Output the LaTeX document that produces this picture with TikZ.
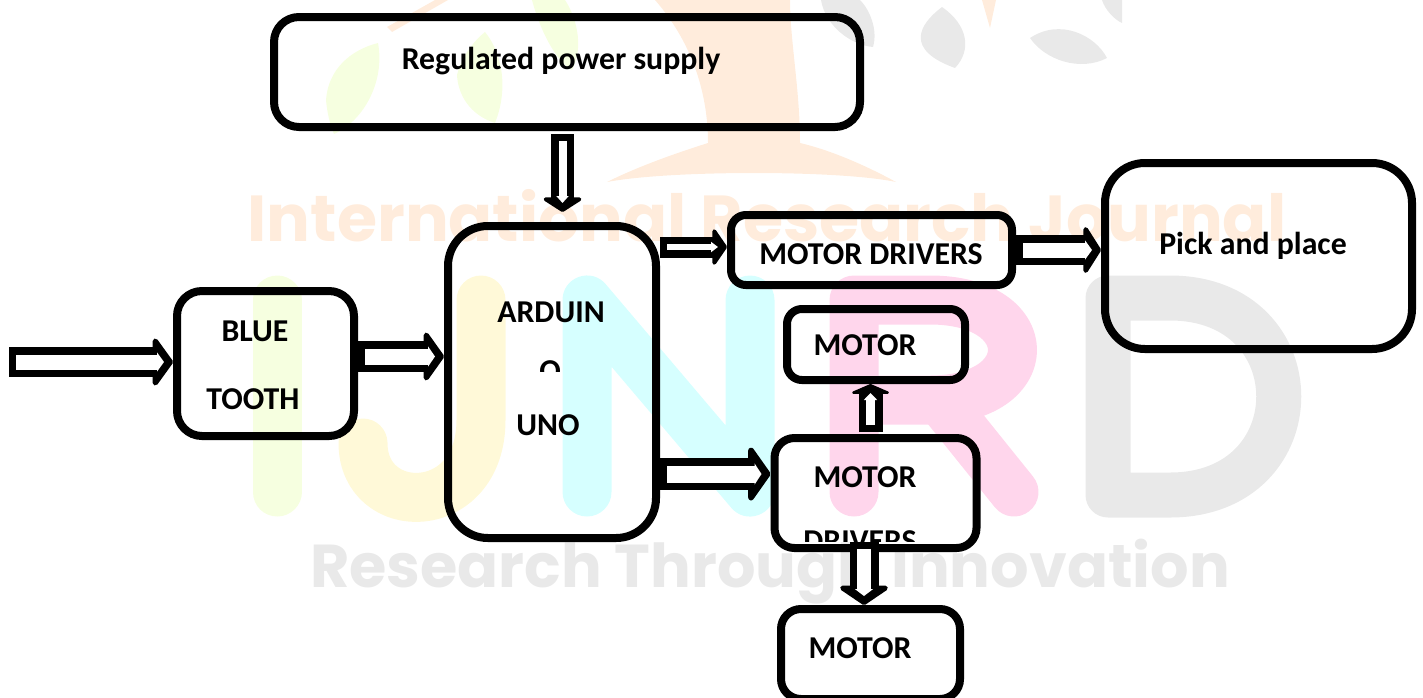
\documentclass[tikz,border=0pt]{standalone}
\usepackage{fontspec}
\setmainfont{Carlito}
\newfontfamily\markfont{Poppins}
\usetikzlibrary{arrows.meta}
\definecolor{markorange}{HTML}{FFECDC}
\definecolor{markyellow}{HTML}{FFF9D8}
\definecolor{markgreen}{HTML}{F6FFE0}
\definecolor{markcyan}{HTML}{D6FFFF}
\definecolor{markpink}{HTML}{FFD6EC}
\definecolor{markgrey}{HTML}{E9E9E9}
\tikzset{
    blk/.style={draw,line width=8pt,rounded corners=#1,inner sep=0pt},
    txt/.style={font=\fontsize{31.8}{31.8}\selectfont\bfseries,inner sep=0pt},
    hollow/.style n args={3}{draw=white,line width=#1-15pt,shorten <=7pt,shorten >=9pt,
        -{Triangle[width=#1-11pt,length=7pt]},
        preaction={draw=black,line width=#1,shorten <=0pt,shorten >=0pt,
            -{Triangle[width=#2+6pt,length=#3,round,line width=7pt]}}},
    wm/.style={line width=49pt,line cap=round,line join=round},
    wmtext/.style={font=\markfont\fontsize{#1}{#1}\selectfont\bfseries,inner sep=0pt}
}
\begin{document}
\begin{tikzpicture}[x=1pt,y=-1pt]
            \useasboundingbox (0,0) rectangle (1423,697);
            % watermark
            \fill[markorange] (655,0) .. controls (690,40) and (708,90) .. (708,143) .. controls (670,155) and (635,168) .. (607,182) .. controls (670,170) and (840,170) .. (896,182) .. controls (865,165) and (830,150) .. (800,143) .. controls (800,90) and (790,40) .. (790,0) -- cycle;
            \fill[markorange] (387,27) -- (435,0) -- (448,0) -- (392,32) -- cycle;
            \fill[markorange] (982,0) -- (996,0) -- (990,28) -- cycle;
            \fill[markgreen] (326,100) .. controls (328,70) and (350,50) .. (378,43) .. controls (385,80) and (365,120) .. (334,134) .. controls (330,125) and (327,112) .. cycle;
            \fill[markgreen] (457,75) .. controls (462,55) and (475,40) .. (485,32) .. controls (500,50) and (510,85) .. (495,123) .. controls (470,115) and (458,95) .. cycle;
            \fill[markgreen] (532,0) .. controls (540,30) and (555,60) .. (572,70) .. controls (585,45) and (575,15) .. (565,0) -- cycle;
            \fill[markgrey] (821,0) .. controls (825,25) and (850,45) .. (873,47) .. controls (878,30) and (870,10) .. (860,0) -- cycle;
            \fill[markgrey] (942,7) .. controls (918,25) and (905,50) .. (955,68) .. controls (972,50) and (968,25) .. cycle;
            \fill[markgrey] (1030,38) .. controls (1045,60) and (1080,72) .. (1107,58) .. controls (1095,35) and (1060,18) .. cycle;
            \fill[markgrey] (1102,0) .. controls (1105,10) and (1115,20) .. (1122,23) -- (1122,0) -- cycle;
            \node[wmtext=65,text=markorange] (marktop) at (767,216) {International Research Journal};
            \node[wmtext=60.5,text=markgrey] (markbot) at (770,572) {Research Through Innovation};
            \draw[wm,markgreen] (277,300) -- (277,492);
            \draw[wm,markyellow] (481,300) -- (481,420) .. controls (481,519) and (363,519) .. (363,443);
            \draw[wm,markcyan] (587,492) -- (587,300) -- (750,492) -- (750,300);
            \draw[wm,markpink] (854,492) -- (854,300) -- (930,300) .. controls (1040,300) and (1040,400) .. (930,400) -- (854,400);
            \draw[wm,markpink] (940,400) -- (1014,492);
            \draw[wm,line width=45pt,markgrey] (1108,298) -- (1108,495) -- (1170,495) .. controls (1315,495) and (1315,298) .. (1170,298) -- cycle;
            % boxes
            \node[blk=25pt,minimum width=586pt,minimum height=110pt] (supply) at (567,72) {};
            \node[blk=40pt,minimum width=208pt,minimum height=312pt] (uno) at (552,382) {};
            \node[blk=25pt,minimum width=177pt,minimum height=145pt] (blue) at (265.5,363.5) {};
            \node[blk=15pt,minimum width=281pt,minimum height=70pt] (drvtop) at (871.5,250) {};
            \node[blk=40pt,minimum width=307pt,minimum height=186pt] (pick) at (1258.5,256) {};
            \node[blk=15pt,minimum width=178pt,minimum height=71pt] (motortop) at (876,344.5) {};
            \node[blk=20pt,minimum width=202pt,minimum height=110pt] (drvbot) at (875.5,493) {};
            \node[blk=20pt,minimum width=179pt,minimum height=90pt] (motorbot) at (870.5,654) {};
            \coordinate (in) at (9,362);
            % texts
            \node[txt] (supplytxt) at (561,61) {Regulated power supply};
            \node[txt] (ardtxt) at (551,312) {ARDUIN};
            \node[txt] (unotxt) at (548,425) {UNO};
            \node[txt] (bluetxt) at (255,331) {BLUE};
            \node[txt] (toothtxt) at (253,399) {TOOTH};
            \node[txt] (drvtoptxt) at (871,254) {MOTOR DRIVERS};
            \node[txt] (picktxt) at (1253,246) {Pick and place};
            \node[txt] (motortoptxt) at (865,345) {MOTOR};
            \node[txt] (drvbottxt) at (865,477) {MOTOR};
            \node[txt] (motorbottxt) at (860,648) {MOTOR};
            \begin{scope}
                \clip (500,340) rectangle (600,371);
                \node[txt] (otxt) at (550,371) {O};
            \end{scope}
            \begin{scope}
                \clip (780,500) rectangle (970,541);
                \node[txt] (drvbottxtb) at (860,541) {DRIVERS};
            \end{scope}
            % arrows
            \draw[hollow={30pt}{51pt}{21pt}] (in) -- ([yshift=1.5pt]blue.west);
            \draw[hollow={31pt}{52pt}{21pt}] ([yshift=7pt]blue.east) -- ([yshift=25.5pt]uno.west);
            \draw[hollow={23pt}{40pt}{15pt}] ([xshift=-4.5pt,yshift=-3pt]supply.south) -- ([xshift=10.5pt,yshift=10pt]uno.north);
            \draw[hollow={21pt}{37pt}{15pt}] ([yshift=135pt]uno.east) -- ([yshift=3pt]drvtop.west);
            \draw[hollow={32pt}{58pt}{23pt}] ([yshift=-92pt]uno.east) -- ([yshift=19pt]drvbot.west);
            \draw[hollow={30pt}{50pt}{18pt}] (drvtop.east) -- ([yshift=6pt]pick.west);
            \draw[hollow={24pt}{40pt}{10pt}] ([xshift=-5pt,yshift=2pt]drvbot.north) -- ([xshift=-5.5pt]motortop.south);
            \draw[hollow={29pt}{52pt}{20pt}] ([xshift=-11.5pt,yshift=10pt]drvbot.south) -- ([xshift=-6.5pt]motorbot.north);
        \end{tikzpicture}
\end{document}
